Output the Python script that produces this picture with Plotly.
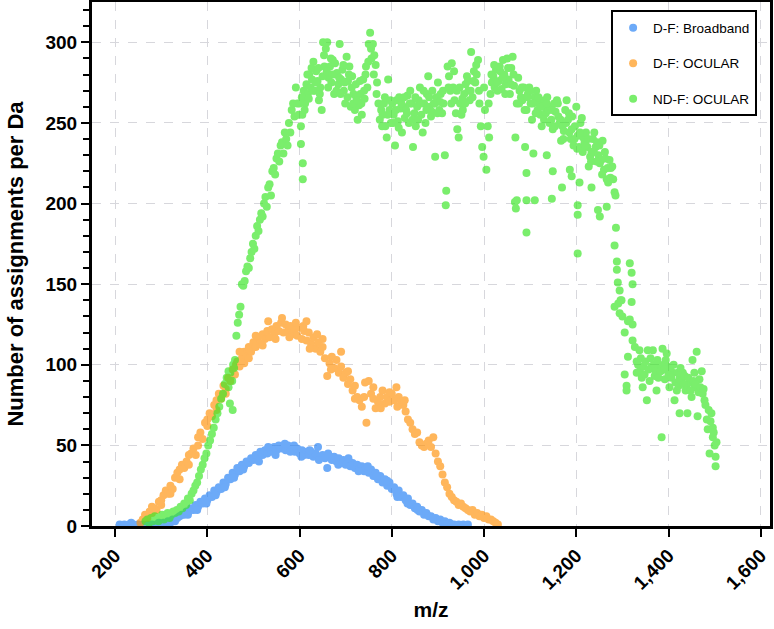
import plotly.graph_objects as go

# D-F: Broadband  (m/z, assignments per Da)
blue_pts = [
    (210, 1), (215, 0), (220, 1), (225, 0), (230, 1), (235, 2), (240, 1), (245, 0), (250, 1), (255, 0),
    (260, 1), (265, 0), (270, 1), (275, 0), (280, 1), (285, 0), (290, 1), (295, 2), (300, 1), (305, 2),
    (310, 1), (315, 3), (320, 2), (325, 4), (330, 3), (335, 5), (340, 6), (345, 7), (350, 7), (355, 9),
    (360, 9), (365, 11), (370, 10), (375, 13), (380, 12), (385, 15), (390, 14), (395, 17), (400, 16),
    (405, 19), (410, 18), (415, 22), (420, 21), (425, 24), (430, 23), (435, 27), (440, 26), (445, 30),
    (450, 29), (455, 33), (460, 32), (465, 36), (470, 34), (475, 38), (480, 37), (485, 40), (490, 39),
    (495, 42), (500, 41), (505, 44), (510, 43), (515, 46), (520, 44), (525, 47), (530, 45), (535, 48),
    (540, 46), (545, 49), (550, 47), (555, 50), (560, 48), (565, 49), (570, 47), (575, 50), (580, 46),
    (585, 48), (590, 46), (595, 48), (600, 45), (605, 47), (610, 44), (615, 46), (620, 44), (625, 46),
    (630, 43), (635, 45), (640, 49), (645, 43), (650, 44), (655, 42), (660, 36), (665, 43), (670, 41),
    (675, 43), (680, 40), (685, 42), (690, 39), (695, 41), (700, 38), (705, 40), (710, 37), (715, 39),
    (720, 36), (725, 38), (730, 36), (735, 37), (740, 34), (745, 36), (750, 33), (755, 35), (760, 31),
    (765, 33), (770, 29), (775, 31), (780, 27), (785, 29), (790, 25), (795, 27), (800, 23), (805, 24),
    (810, 20), (815, 22), (820, 18), (825, 19), (830, 16), (835, 17), (840, 13), (845, 14), (850, 11),
    (855, 12), (860, 9), (865, 10), (870, 7), (875, 8), (880, 6), (885, 6), (890, 4), (895, 5), (900, 3),
    (905, 4), (910, 2), (915, 3), (920, 1), (925, 2), (930, 1), (935, 1), (940, 0), (945, 1), (950, 0),
    (955, 1), (960, 0), (965, 1),
    (512, 40), (532, 49), (548, 44), (568, 51), (588, 50), (604, 43), (622, 47), (642, 41), (662, 45),
    (684, 38), (706, 42), (728, 34), (748, 37), (768, 31), (790, 28), (812, 18), (834, 14), (856, 10),
    (478, 35), (458, 30), (438, 24), (418, 19), (398, 14), (378, 10), (358, 7),
]

# D-F: OCULAR
orange_pts = [
    (255, 2), (260, 4), (265, 7), (270, 5), (275, 9), (280, 8), (285, 11), (290, 10), (295, 15), (300, 13),
    (305, 19), (310, 22), (315, 20), (320, 25), (325, 23), (330, 30), (335, 33), (340, 29), (345, 38),
    (350, 36), (355, 40), (360, 38), (365, 45), (370, 48), (375, 44), (380, 55), (385, 58), (390, 54),
    (395, 64), (400, 62), (405, 70), (410, 68), (415, 75), (420, 78), (425, 82), (430, 79), (435, 87),
    (440, 85), (445, 92), (450, 90), (455, 97), (460, 94), (465, 102), (470, 99), (475, 104), (480, 108),
    (485, 105), (490, 111), (495, 108), (500, 114), (505, 111), (510, 117), (515, 113), (520, 119),
    (525, 116), (530, 121), (535, 117), (540, 122), (545, 119), (550, 124), (555, 121), (560, 126),
    (565, 120), (570, 125), (575, 121), (580, 124), (585, 119), (590, 122), (595, 118), (600, 123),
    (605, 116), (610, 121), (615, 115), (620, 120), (625, 113), (630, 117), (635, 110), (640, 114),
    (645, 108), (650, 111), (655, 104), (660, 93), (665, 101), (670, 105), (675, 98), (680, 103),
    (685, 95), (690, 99), (695, 92), (700, 95), (705, 88), (710, 91), (715, 84), (720, 87), (725, 80),
    (730, 78), (735, 74), (740, 80), (745, 64), (750, 90), (755, 82), (760, 79), (765, 73), (770, 77),
    (775, 80), (780, 84), (785, 76), (790, 80), (795, 77), (800, 82), (805, 78), (810, 86), (815, 80),
    (820, 77), (825, 75), (830, 71), (835, 66), (840, 64), (845, 60), (850, 57), (855, 58), (860, 52),
    (865, 50), (870, 49), (875, 51), (880, 53), (885, 49), (890, 55), (895, 45), (900, 40), (905, 37),
    (910, 32), (915, 27), (920, 24), (925, 20), (930, 18), (935, 16), (940, 15), (945, 13), (950, 14),
    (955, 12), (960, 11), (965, 10), (970, 9), (975, 10), (980, 7), (985, 8), (990, 6), (995, 7),
    (1000, 5), (1005, 6), (1010, 4), (1015, 4), (1020, 3), (1025, 2), (1030, 1),
    (532, 127), (548, 116), (562, 129), (578, 117), (592, 126), (608, 124), (615, 127), (622, 110),
    (638, 119), (650, 116), (668, 97), (690, 108), (705, 96), (720, 79), (742, 89), (760, 86), (776, 73),
    (795, 83), (812, 74), (828, 78), (480, 101), (462, 100), (440, 82), (420, 72), (400, 66), (380, 50),
    (360, 44), (340, 35), (320, 20), (300, 16), (280, 12), (520, 112), (505, 118), (490, 104), (470, 108),
]

# ND-F: OCULAR
green_low = [
    (266, 3), (270, 4), (274, 2), (278, 5), (282, 3), (286, 6), (290, 4), (294, 3), (298, 5), (302, 7),
    (306, 4), (310, 6), (314, 8), (318, 5), (322, 7), (326, 9), (330, 8),
]
green_rise = [
    (334, 10), (338, 9), (342, 12), (346, 11), (350, 14), (354, 13), (358, 17), (362, 16), (366, 20),
    (370, 22), (374, 25), (378, 27), (382, 31), (386, 35), (390, 38), (394, 42), (398, 45), (402, 50),
    (406, 53), (410, 57), (414, 61), (418, 66), (422, 70), (426, 74), (430, 79), (434, 82), (438, 88),
    (442, 92), (446, 86), (450, 95), (454, 90), (458, 98), (446, 96), (452, 90), (456, 100), (449, 76),
    (455, 72),
    (460, 103), (463, 118), (466, 126), (469, 131), (472, 136), (475, 150), (478, 149), (481, 152),
    (484, 158), (487, 161), (490, 160), (493, 166), (496, 170), (499, 175), (502, 172), (505, 180),
    (508, 186), (511, 183), (514, 190), (517, 194), (520, 192), (523, 200), (526, 204), (529, 198),
    (532, 210), (535, 212), (538, 205), (541, 220), (544, 222), (547, 218), (550, 228), (553, 231),
    (556, 226), (559, 236), (562, 238), (565, 231), (568, 244), (571, 240), (574, 236), (577, 250),
    (580, 244), (583, 258), (586, 262), (589, 254), (592, 272), (595, 262), (598, 255),
    (607, 215), (607, 225), (603, 237),
]
green_hump = [
    (600, 262), (603, 248), (606, 255), (609, 270), (612, 262), (615, 274), (618, 268), (621, 280),
    (624, 272), (627, 277), (630, 288), (633, 270), (636, 282), (639, 276), (642, 264), (645, 272),
    (648, 258), (651, 300), (654, 285), (657, 296), (660, 300), (663, 278), (666, 285), (669, 275),
    (672, 289), (675, 268), (678, 280), (681, 281), (684, 274), (687, 299), (690, 277), (693, 283),
    (696, 270), (699, 262), (702, 291), (705, 276), (708, 285), (711, 260), (714, 279), (717, 268),
    (720, 258), (723, 266), (726, 252), (729, 261), (732, 268), (735, 255), (738, 277), (741, 265),
    (744, 285), (747, 272), (750, 299), (753, 306), (756, 290), (759, 299), (762, 292), (765, 286),
    (768, 275), (771, 262), (774, 252), (777, 258),
    (605, 266), (611, 258), (617, 280), (620, 265), (626, 284), (629, 270), (635, 275), (641, 284),
    (644, 268), (650, 279), (653, 292), (659, 282), (662, 272), (668, 290), (671, 280), (677, 287),
    (680, 270), (686, 278), (689, 268), (695, 286), (698, 275), (704, 266), (707, 280), (713, 272),
    (716, 262), (722, 274), (725, 264), (731, 276), (734, 262), (740, 270), (743, 280), (749, 288),
    (755, 296), (761, 280), (767, 268),
]
green_mid = [
    (780, 255), (783, 262), (786, 248), (789, 241), (792, 277), (795, 258), (798, 250), (801, 262),
    (804, 255), (807, 236), (810, 264), (813, 251), (816, 266), (819, 259), (822, 244), (825, 260),
    (828, 253), (831, 258), (834, 267), (837, 250), (840, 270), (843, 262), (846, 235), (849, 256),
    (852, 248), (855, 260), (858, 264), (861, 272), (864, 255), (867, 244), (870, 262), (873, 250),
    (876, 268), (879, 279), (882, 260), (885, 254), (888, 270), (891, 262), (894, 229), (897, 266),
    (900, 275), (903, 258), (906, 268), (909, 256), (912, 262), (915, 230), (918, 208), (921, 285),
    (924, 279), (927, 270), (930, 287), (933, 272), (936, 264), (939, 256), (942, 246), (945, 241),
    (948, 262), (951, 255), (954, 258), (957, 268), (960, 274), (963, 279), (966, 270), (969, 264),
    (972, 294), (975, 266), (978, 282), (981, 275), (984, 280), (987, 289), (990, 262), (993, 248),
    (996, 235), (999, 229), (917, 199),
    (779, 248), (785, 266), (791, 255), (797, 264), (803, 250), (809, 258), (815, 247), (821, 262),
    (827, 266), (833, 256), (839, 262), (845, 252), (851, 266), (857, 252), (863, 262), (869, 270),
    (875, 258), (881, 266), (887, 257), (893, 262), (899, 256), (905, 263), (911, 270), (923, 272),
    (929, 262), (935, 282), (941, 270), (947, 272), (953, 265), (959, 262), (965, 276), (971, 270),
    (977, 276), (983, 286), (989, 270),
]
green_tail = [
    (1002, 258), (1005, 221), (1008, 248), (1011, 241), (1014, 268), (1017, 275), (1020, 279),
    (1023, 272), (1026, 283), (1029, 270), (1032, 276), (1035, 282), (1038, 271), (1041, 289),
    (1044, 280), (1047, 274), (1050, 290), (1053, 277), (1056, 268), (1059, 284), (1062, 291),
    (1065, 273), (1068, 241), (1071, 262), (1074, 278), (1077, 270), (1080, 266), (1083, 264),
    (1086, 272), (1089, 235), (1092, 258), (1095, 268), (1098, 272), (1101, 262), (1104, 252),
    (1107, 231), (1110, 266), (1113, 270), (1116, 258), (1119, 262), (1122, 255), (1125, 248),
    (1128, 260), (1131, 264), (1134, 256), (1137, 266), (1140, 258), (1143, 260), (1146, 252),
    (1149, 246), (1152, 262), (1155, 257), (1158, 264), (1161, 254), (1164, 250), (1167, 239),
    (1170, 248), (1173, 245), (1176, 258), (1179, 264), (1182, 252), (1185, 244), (1188, 240),
    (1191, 254), (1194, 236), (1197, 248), (1200, 260), (1203, 242), (1206, 235), (1209, 250),
    (1212, 253), (1215, 241), (1218, 238), (1221, 244), (1224, 235), (1227, 223), (1230, 229),
    (1233, 232), (1236, 240), (1239, 244), (1242, 235), (1245, 238), (1248, 230), (1251, 225),
    (1254, 227), (1257, 239), (1260, 221), (1263, 228), (1266, 215), (1269, 213), (1272, 227),
    (1275, 222), (1278, 223),
    (1067, 201), (1069, 197), (1071, 202), (1092, 219), (1092, 202), (1092, 182), (1110, 202),
    (1136, 230), (1147, 203), (1149, 220), (1169, 210), (1186, 221), (1190, 217), (1203, 199),
    (1203, 193), (1203, 169), (1207, 213), (1233, 210), (1247, 196), (1251, 192), (1266, 198),
    (1000, 272), (1010, 262), (1016, 280), (1022, 286), (1028, 275), (1034, 285), (1040, 278),
    (1046, 268), (1052, 284), (1058, 274), (1064, 280), (1076, 262), (1082, 272), (1088, 258),
    (1094, 266), (1100, 270), (1106, 262), (1112, 256), (1118, 266), (1124, 260), (1130, 252),
    (1136, 262), (1142, 250), (1148, 258), (1154, 248), (1160, 262), (1166, 252), (1172, 240),
    (1178, 250), (1184, 256), (1190, 246), (1196, 240), (1202, 234), (1208, 244), (1214, 232),
    (1220, 236), (1226, 240), (1232, 226), (1238, 232), (1244, 226), (1250, 236), (1256, 218),
    (1262, 232), (1268, 222), (1274, 216),
]
green_drop = [
    (1280, 215), (1283, 207), (1285, 205), (1283, 174), (1286, 185), (1288, 164), (1288, 159),
    (1290, 151), (1294, 146), (1296, 140), (1298, 140), (1283, 136), (1291, 138), (1294, 132),
    (1300, 130), (1305, 120), (1312, 127), (1316, 128), (1316, 163), (1320, 157), (1322, 150),
    (1320, 139), (1322, 125), (1322, 115), (1327, 111), (1312, 105), (1305, 94), (1309, 87), (1309, 84),
]
green_end = [
    (1331, 102), (1337, 109), (1331, 95), (1342, 92), (1344, 86), (1353, 78), (1355, 109), (1363, 99),
    (1366, 109), (1370, 93), (1374, 84), (1381, 99), (1385, 55), (1387, 110), (1392, 91), (1396, 107),
    (1398, 99), (1402, 86), (1409, 95), (1413, 78), (1418, 84), (1424, 92), (1424, 70), (1431, 95),
    (1439, 86), (1441, 70), (1446, 89), (1450, 80), (1452, 103), (1461, 108), (1457, 86), (1463, 68),
    (1467, 91), (1472, 96), (1474, 82), (1478, 78), (1483, 66), (1485, 60), (1493, 70), (1496, 61),
    (1496, 55), (1504, 52), (1489, 45), (1502, 43), (1502, 37),
    (1334, 100), (1338, 96), (1340, 104), (1346, 99), (1348, 94), (1350, 102), (1357, 97), (1359, 90),
    (1361, 104), (1368, 100), (1372, 96), (1376, 103), (1378, 92), (1383, 96), (1389, 100), (1391, 97),
    (1394, 103), (1400, 94), (1404, 98), (1406, 92), (1411, 100), (1415, 89), (1420, 95), (1422, 87),
    (1426, 98), (1428, 90), (1433, 88), (1435, 93), (1437, 84), (1443, 92), (1448, 84), (1454, 90),
    (1456, 95), (1459, 88), (1465, 83), (1469, 86), (1476, 85), (1480, 75), (1487, 72), (1491, 65),
    (1498, 58), (1500, 50),
]
green_pts = green_low + green_rise + green_hump + green_mid + green_tail + green_drop + green_end

series = [
    ("D-F: Broadband", blue_pts, "rgb(40,130,245)"),
    ("D-F: OCULAR", orange_pts, "rgb(255,148,15)"),
    ("ND-F: OCULAR", green_pts, "rgb(60,230,40)"),
]

FONT = "Liberation Sans, Arial, Helvetica, sans-serif"

fig = go.Figure()
for name, pts, color in series:
    fig.add_trace(go.Scatter(
        x=[p[0] for p in pts], y=[p[1] for p in pts],
        mode="markers", name=name, legendgroup=name,
        marker=dict(color=color, size=8, line=dict(width=0)),
        opacity=0.68,
    ))

axis_common = dict(
    showline=True, linecolor="black", linewidth=3, mirror=True,
    ticks="outside", tickcolor="black", tickwidth=2, ticklen=8,
    showgrid=True, gridcolor="rgb(215,215,220)", griddash="dash", gridwidth=1,
    zeroline=False, automargin=False,
    tickfont=dict(family=FONT, size=19, color="black", weight="bold"),
)

fig.update_layout(
    width=774, height=629,
    margin=dict(l=92, r=4, t=2, b=103),
    plot_bgcolor="white", paper_bgcolor="white",
    font=dict(family=FONT, color="black"),
    xaxis=dict(
        axis_common, range=[150, 1620], tickvals=[200, 400, 600, 800, 1000, 1200, 1400, 1600],
        tickformat=",d", tickangle=-45,
        title=dict(text="m/z", font=dict(family=FONT, size=21, weight="bold"), standoff=10),
    ),
    yaxis=dict(
        axis_common, range=[0, 325], tickvals=[0, 50, 100, 150, 200, 250, 300],
        minor=dict(dtick=10, ticks="outside", ticklen=6, tickwidth=2, tickcolor="black", showgrid=False),
        title=dict(text="Number of assignments per Da", font=dict(family=FONT, size=22, weight="bold"), standoff=16),
    ),
    legend=dict(
        x=0.981, y=0.984, xanchor="right", yanchor="top",
        bgcolor="white", bordercolor="black", borderwidth=2,
        font=dict(family=FONT, size=13.5, color="black"),
        tracegroupgap=15,
    ),
    showlegend=True,
)

# drop the page's default body margin so the figure sits at the window origin
fig.write_html("out.html", config={"displayModeBar": False},
               post_script="document.body.style.margin='0';")
